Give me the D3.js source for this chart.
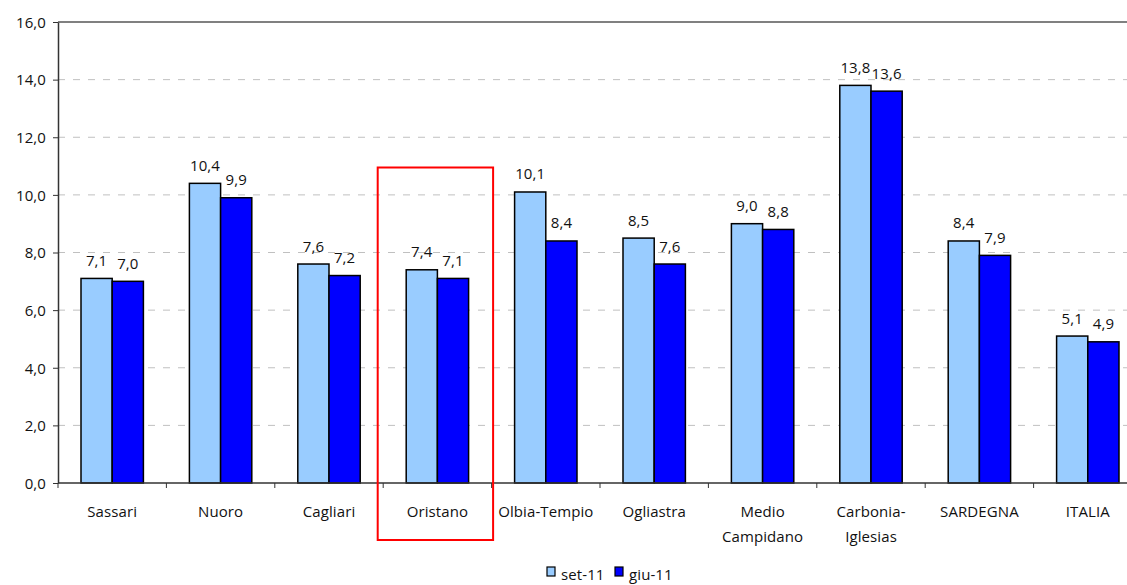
<!DOCTYPE html>
<html>
<head>
<meta charset="utf-8">
<script src="https://cdn.jsdelivr.net/npm/d3@7"></script>
<style>
  html, body { margin: 0; padding: 0; background: #fff; }
  svg { display: block; }
  text { font-family: "Open Sans", Lato, sans-serif; fill: #111; letter-spacing: 0.1px; }
</style>
</head>
<body>
<svg id="chart" width="1127" height="585"></svg>
<script>
// Province labels (multi-line labels split on "\n")
const categories = ["Sassari", "Nuoro", "Cagliari", "Oristano", "Olbia-Tempio", "Ogliastra",
  "Medio\nCampidano", "Carbonia-\nIglesias", "SARDEGNA", "ITALIA"];
const seriesNames = ["set-11", "giu-11"];
const set11 = [7.1, 10.4, 7.6, 7.4, 10.1, 8.5, 9.0, 13.8, 8.4, 5.1];
const giu11 = [7.0, 9.9, 7.2, 7.1, 8.4, 7.6, 8.8, 13.6, 7.9, 4.9];
const yTicks = [0, 2, 4, 6, 8, 10, 12, 14, 16];
const highlighted = "Oristano";

const colors = { "set-11": "#99CCFF", "giu-11": "#0000FF" };
const fmt = v => v.toFixed(1).replace(".", ",");
const FONT = "'Open Sans', Lato, sans-serif";
const FS = 15;

const svg = d3.select("#chart");
const plotLeft = 58, plotTop = 22, plotBottom = 483, plotRight = 1142;

const x0 = d3.scaleBand().domain(categories).range([plotLeft, plotRight]).padding(0);
const x1 = d3.scaleBand().domain(seriesNames).range([23, x0.bandwidth() - 23]).padding(0);
const y = d3.scaleLinear().domain([0, 16]).range([plotBottom, plotTop]);

// dashed grid lines
svg.append("g").selectAll("line")
  .data(yTicks.filter(t => t > 0 && t < 16))
  .join("line")
  .attr("x1", plotLeft).attr("x2", plotRight)
  .attr("y1", d => y(d)).attr("y2", d => y(d))
  .attr("stroke", "#c0c0c0").attr("stroke-width", 1)
  .attr("stroke-dasharray", "7,8");

// top frame line
svg.append("line")
  .attr("x1", plotLeft).attr("x2", plotRight)
  .attr("y1", y(16)).attr("y2", y(16))
  .attr("stroke", "#808080").attr("stroke-width", 2);

// bars
const rows = categories.map((c, i) => ({ cat: c, values: [
  { key: "set-11", v: set11[i] }, { key: "giu-11", v: giu11[i] }] }));

const groups = svg.append("g").selectAll("g")
  .data(rows).join("g")
  .attr("transform", d => `translate(${x0(d.cat)},0)`);

groups.selectAll("rect")
  .data(d => d.values).join("rect")
  .attr("x", d => x1(d.key))
  .attr("y", d => y(d.v))
  .attr("width", x1.bandwidth())
  .attr("height", d => y(0) - y(d.v))
  .attr("fill", d => colors[d.key])
  .attr("stroke", "#000").attr("stroke-width", 1.5);

groups.selectAll("text.val")
  .data(d => d.values).join("text")
  .attr("class", "val")
  .attr("x", d => x1(d.key) + x1.bandwidth() / 2)
  .attr("y", d => y(d.v) - 12.5)
  .attr("text-anchor", "middle")
  .attr("font-size", FS)
  .text(d => fmt(d.v));

// y axis
const yAxis = d3.axisLeft(y).tickValues(yTicks).tickFormat(fmt).tickSize(5).tickSizeOuter(0);
const gy = svg.append("g").attr("transform", `translate(${plotLeft},0)`).call(yAxis);
gy.select(".domain").attr("stroke", "#333").attr("stroke-width", 1.5);
gy.selectAll(".tick line").attr("stroke", "#333");
gy.selectAll(".tick text").attr("font-size", FS).attr("font-family", FONT)
  .attr("fill", "#111").attr("x", -12).attr("dy", "0.35em");

// x axis line and category separators
const gx = svg.append("g").attr("transform", `translate(0,${plotBottom})`);
gx.append("line").attr("x1", plotLeft).attr("x2", plotRight).attr("y1", 0).attr("y2", 0)
  .attr("stroke", "#333").attr("stroke-width", 1.5);
gx.selectAll("line.tk")
  .data(categories.map(c => x0(c)).concat([plotRight]))
  .join("line").attr("class", "tk")
  .attr("x1", d => d).attr("x2", d => d).attr("y1", 0).attr("y2", 5)
  .attr("stroke", "#333");

const labels = gx.selectAll("text.cat")
  .data(categories).join("text").attr("class", "cat")
  .attr("text-anchor", "middle")
  .attr("font-size", FS)
  .attr("transform", d => `translate(${x0(d) + x0.bandwidth() / 2},0)`);
labels.selectAll("tspan")
  .data(d => d.split("\n")).join("tspan")
  .attr("x", 0)
  .attr("y", (d, i) => 34 + i * 25)
  .text(d => d);

// highlight box around the selected province
const hx = x0(highlighted);
svg.append("rect")
  .attr("x", hx - 5.5)
  .attr("y", y(10.95))
  .attr("width", x0.bandwidth() + 7)
  .attr("height", 540 - y(10.95))
  .attr("fill", "none")
  .attr("stroke", "#ff0000").attr("stroke-width", 2);

// legend
const legend = svg.append("g").attr("transform", "translate(547,567)");
const legX = [0, 68];
seriesNames.forEach((s, i) => {
  const g = legend.append("g").attr("transform", `translate(${legX[i]},0)`);
  g.append("rect").attr("width", 8).attr("height", 9)
    .attr("fill", colors[s]).attr("stroke", "#000").attr("stroke-width", 1.2);
  g.append("text").attr("x", 14).attr("y", 13).attr("font-size", FS).text(s);
});
</script>
</body>
</html>
